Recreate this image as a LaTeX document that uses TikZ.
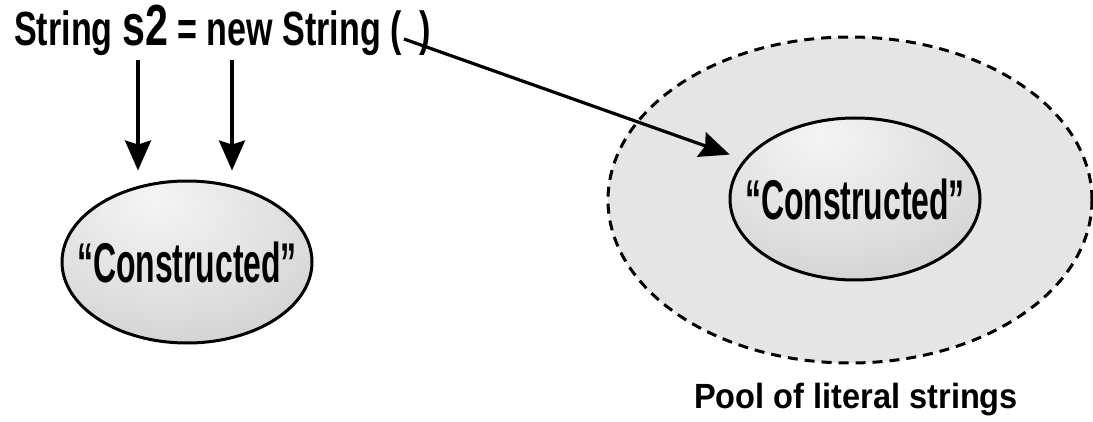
\documentclass[tikz,border=0pt]{standalone}
\usepackage{fontspec}
\setmainfont{Liberation Sans}[FakeStretch=0.93]
\newfontfamily\declfont{Liberation Sans}[FakeStretch=0.71]
\newfontfamily\litfont{Liberation Sans}[FakeStretch=0.57]
\usetikzlibrary{shapes.geometric,arrows.meta}

\pgfdeclareradialshading{glossy}{\pgfpoint{-7bp}{20bp}}{color(0bp)=(gray!8); color(25bp)=(gray!25); color(50bp)=(gray!45); color(75bp)=(gray!55)}

\begin{document}
\begin{tikzpicture}[x=1pt,y=-1pt,
    ptr/.style={line width=3.2pt, -{Stealth[length=30pt,width=26pt,inset=4pt]}},
    strobj/.style={ellipse, draw, line width=3pt, shading=glossy, minimum width=250pt, minimum height=162pt, inner xsep=-30pt, inner ysep=0pt, font=\litfont\bfseries\fontsize{56}{58}\selectfont},
    pool/.style={ellipse, draw, line width=3pt, dash pattern=on 10pt off 7pt, fill=gray!20, minimum width=484pt, minimum height=326pt, inner sep=0pt}]
        \useasboundingbox (0,0) rectangle (1093,422);
        %declaration line
        \node[anchor=base west, inner sep=0pt, font=\declfont\bfseries\fontsize{48}{50}\selectfont] (decl) at (14,46) {String {\fontsize{58}{60}\selectfont s2} = new String ( \,)};
        \coordinate (s2ref) at (138,60);
        \coordinate (newref) at (232,60);
        \coordinate (argref) at (404,39);

        %object on the heap
        \node[strobj] (heapstr) at (187,262) {“Constructed”};

        %pool of literal strings
        \node[pool] (pool) at (850,200) {};
        \node[strobj] (poolstr) at (855,199) {“Constructed”};
        \node[anchor=base west, inner sep=0pt, font=\bfseries\fontsize{35}{38}\selectfont] (poollabel) at (694,408) {Pool of literal strings};

        \draw[ptr, shorten >=9pt] (s2ref) -- (s2ref |- heapstr.north);
        \draw[ptr, shorten >=9pt] (newref) -- (newref |- heapstr.north);
        \draw[ptr, shorten >=15pt] (argref) -- (poolstr);
    \end{tikzpicture}
\end{document}
